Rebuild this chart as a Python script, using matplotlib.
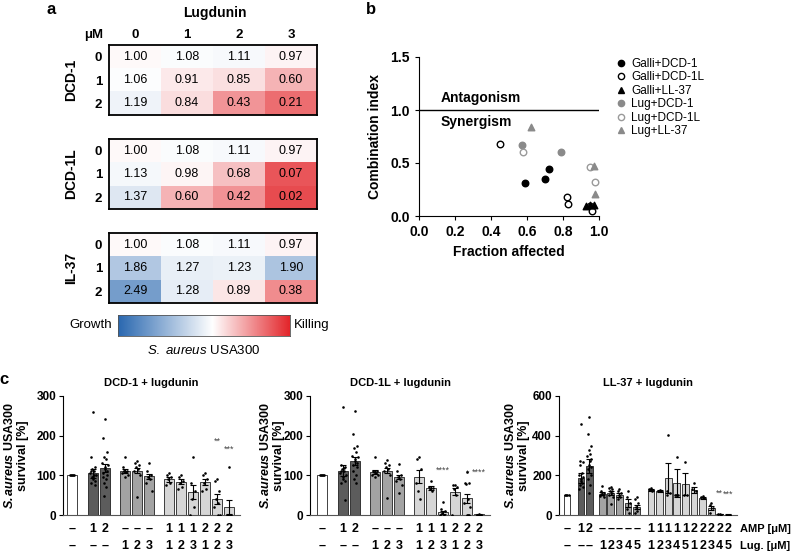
import numpy as np
import matplotlib
matplotlib.use('Agg')
import matplotlib.pyplot as plt
from matplotlib.colors import LinearSegmentedColormap, TwoSlopeNorm
from matplotlib.lines import Line2D

plt.rcParams['font.family'] = 'Liberation Sans'
plt.rcParams['mathtext.fontset'] = 'custom'
plt.rcParams['mathtext.rm'] = 'Liberation Sans'
plt.rcParams['mathtext.it'] = 'Liberation Sans:italic'
plt.rcParams['mathtext.bf'] = 'Liberation Sans:italic:bold'

# ---- panel a data: fractional survival vs. lugdunin (columns) / AMP (rows)
lug_conc = ['0', '1', '2', '3']
amp_conc = ['0', '1', '2']
amp_names = ['DCD-1', 'DCD-1L', 'IL-37']
dcd1 = [[1.00, 1.08, 1.11, 0.97], [1.06, 0.91, 0.85, 0.60], [1.19, 0.84, 0.43, 0.21]]
dcd1l = [[1.00, 1.08, 1.11, 0.97], [1.13, 0.98, 0.68, 0.07], [1.37, 0.60, 0.42, 0.02]]
il37 = [[1.00, 1.08, 1.11, 0.97], [1.86, 1.27, 1.23, 1.90], [2.49, 1.28, 0.89, 0.38]]

# ---- panel b data: fraction affected / combination index
series_b = ['Galli+DCD-1', 'Galli+DCD-1L', 'Galli+LL-37', 'Lug+DCD-1', 'Lug+DCD-1L', 'Lug+LL-37']
fa_galli_dcd1 = [0.59, 0.70, 0.72]
ci_galli_dcd1 = [0.31, 0.35, 0.44]
fa_galli_dcd1l = [0.45, 0.82, 0.83, 0.95, 0.96]
ci_galli_dcd1l = [0.68, 0.18, 0.11, 0.09, 0.05]
fa_galli_ll37 = [0.93, 0.95, 0.97]
ci_galli_ll37 = [0.09, 0.10, 0.10]
fa_lug_dcd1 = [0.57, 0.79]
ci_lug_dcd1 = [0.67, 0.60]
fa_lug_dcd1l = [0.58, 0.95, 0.98]
ci_lug_dcd1l = [0.60, 0.46, 0.32]
fa_lug_ll37 = [0.62, 0.97, 0.98]
ci_lug_ll37 = [0.84, 0.47, 0.21]

# ---- panel c data: survival [%]
amp_row1 = ['–', '1', '2', '–', '–', '–', '1', '1', '1', '2', '2', '2']
lug_row1 = ['–', '–', '–', '1', '2', '3', '1', '2', '3', '1', '2', '3']
amp_row3 = ['–', '1', '2'] + ['–'] * 5 + ['1'] * 5 + ['2'] * 5
lug_row3 = ['–', '–', '–'] + ['1', '2', '3', '4', '5'] * 3

dcd1_mean = [100, 105, 118, 110, 112, 98, 90, 84, 58, 83, 40, 20]
dcd1_sem = [0, 12, 10, 5, 7, 6, 6, 7, 18, 8, 12, 18]
dcd1_dots = [
    [100, 100, 100, 100, 100],
    [260, 145, 120, 115, 110, 105, 100, 95, 90, 85, 80, 75, 110, 100, 95],
    [242, 195, 158, 145, 140, 130, 125, 120, 115, 110, 105, 100, 95, 90, 80, 70, 48],
    [145, 120, 112, 110, 108, 105, 100, 95, 110],
    [135, 130, 125, 120, 115, 110, 100, 45],
    [130, 110, 100, 95, 90, 80, 60],
    [105, 100, 95, 90, 80, 75],
    [100, 95, 85, 80, 70, 65],
    [145, 80, 60, 40, 20, 0],
    [105, 100, 90, 80, 65, 60],
    [90, 85, 60, 40, 30, 20, 0, 0],
    [120, 0, 0, 0, 0],
]
dcd1_stars = {10: ('**', 185), 11: ('***', 165)}

dcd1l_mean = [100, 112, 135, 108, 112, 96, 97, 68, 7, 59, 42, 2]
dcd1l_sem = [0, 13, 10, 5, 7, 6, 17, 4, 4, 8, 12, 1]
dcd1l_dots = [
    [100, 100, 100, 100, 100],
    [272, 125, 120, 115, 110, 105, 100, 95, 90, 85, 80, 38, 112, 118],
    [262, 205, 175, 170, 160, 150, 145, 140, 135, 130, 125, 120, 110, 100, 90, 80],
    [145, 112, 110, 108, 105, 100, 100, 95],
    [138, 130, 125, 120, 115, 110, 100, 42],
    [128, 110, 100, 95, 90, 85, 75, 55],
    [145, 140, 115, 60, 40, 80],
    [85, 70, 68, 65, 60],
    [32, 15, 10, 5, 0, 0],
    [75, 75, 70, 65, 50, 0],
    [108, 80, 80, 78, 40, 30, 20, 0, 0, 0],
    [3, 0, 0, 0, 0],
]
dcd1l_stars = {8: ('****', 113), 10: ('*', 106), 11: ('****', 108)}

ll37_mean = [100, 185, 248, 108, 112, 100, 60, 40, 128, 122, 188, 160, 155, 128, 88, 35, 5, 2]
ll37_sem = [0, 25, 35, 8, 10, 10, 20, 12, 5, 5, 75, 70, 55, 15, 5, 10, 2, 1]
ll37_dots = [
    [100, 100, 100, 100],
    [460, 270, 265, 250, 210, 200, 190, 180, 170, 160, 150, 140, 130],
    [495, 410, 350, 330, 310, 300, 280, 270, 250, 240, 230, 200, 180, 150, 110],
    [145, 120, 110, 105, 100, 95, 90],
    [140, 135, 130, 120, 110, 100, 90, 55],
    [130, 120, 110, 100, 90, 80],
    [120, 90, 60, 30, 10],
    [90, 80, 60, 40, 20, 10],
    [135, 130, 128, 125, 120],
    [125, 122, 120],
    [405, 120, 110, 100],
    [290, 100, 100, 100],
    [265, 100, 100],
    [160, 130, 120],
    [95, 90, 85],
    [60, 50, 35, 10],
    [5, 3, 0],
    [2, 0, 0],
]
ll37_stars = {16: ('**', 112), 17: ('***', 106)}

# ---------------------------------------------------------------- layout
W, H = 793, 554
fig = plt.figure(figsize=(W / 100, H / 100), dpi=100)


def add_ax(l, t, r, b):
    return fig.add_axes([l / W, 1 - b / H, (r - l) / W, (b - t) / H])


def ftext(x, y, s, **kw):
    return fig.text(x / W, 1 - y / H, s, **kw)


# ---------------------------------------------------------------- panel a
cmap = LinearSegmentedColormap.from_list('kill', [(0, '#e3262b'), (0.5, '#ffffff'), (1, '#2a68b0')])
norm = TwoSlopeNorm(vcenter=1.03, vmin=-0.2, vmax=3.3)

ftext(51, 10, 'a', fontsize=12, fontweight='bold', ha='center', va='center')
ftext(215, 13, 'Lugdunin', fontsize=10, fontweight='bold', ha='center', va='center')
ftext(103, 35, 'μM', fontsize=9.5, fontweight='bold', ha='right', va='center')

tops = [45, 139, 233]
for k, (name, mat) in enumerate(zip(amp_names, [dcd1, dcd1l, il37])):
    ax = add_ax(109, tops[k], 317, tops[k] + 70)
    arr = np.array(mat)
    ax.imshow(arr, cmap=cmap, norm=norm, aspect='auto')
    for i in range(arr.shape[0]):
        for j in range(arr.shape[1]):
            ax.text(j, i, f'{arr[i, j]:.2f}', ha='center', va='center', fontsize=9)
    ax.set_yticks(range(3), amp_conc, fontsize=9.5, fontweight='bold')
    ax.tick_params(axis='y', length=0, pad=5)
    if k == 0:
        ax.xaxis.tick_top()
        ax.set_xticks(range(4), lug_conc, fontsize=9.5, fontweight='bold')
        ax.tick_params(axis='x', length=0, pad=3)
    else:
        ax.set_xticks([])
    for sp in ax.spines.values():
        sp.set_linewidth(1.3)
    ax.set_ylabel(name, fontsize=10, fontweight='bold')
    ax.yaxis.set_label_coords(-0.15, 0.5)

cax = add_ax(118, 315, 290, 336)
xg = np.linspace(0, 1, 512)
cax.imshow(np.interp(xg, [0, 0.55, 1], [1, 0.5, 0])[None, :], cmap=cmap, aspect='auto')
cax.set_xticks([])
cax.set_yticks([])
for sp in cax.spines.values():
    sp.set_linewidth(0.6)
    sp.set_color('#555555')
ftext(112, 325, 'Growth', fontsize=9.5, ha='right', va='center')
ftext(294, 325, 'Killing', fontsize=9.5, ha='left', va='center')
ftext(204, 350, r'$\mathit{S.\ aureus}$ USA300', fontsize=9.5, ha='center', va='center')

# ---------------------------------------------------------------- panel b
ftext(371, 9, 'b', fontsize=12, fontweight='bold', ha='center', va='center')
axb = add_ax(419, 57, 599, 216)
styles = [
    (fa_galli_dcd1, ci_galli_dcd1, 'o', 'black', 'black'),
    (fa_galli_dcd1l, ci_galli_dcd1l, 'o', 'white', 'black'),
    (fa_galli_ll37, ci_galli_ll37, '^', 'black', 'black'),
    (fa_lug_dcd1, ci_lug_dcd1, 'o', '#8a8a8a', '#8a8a8a'),
    (fa_lug_dcd1l, ci_lug_dcd1l, 'o', 'white', '#9a9a9a'),
    (fa_lug_ll37, ci_lug_ll37, '^', '#8a8a8a', '#8a8a8a'),
]
handles = []
for (fx, cy, mk, fc, ec), lab in zip(styles, series_b):
    axb.scatter(fx, cy, marker=mk, s=22, facecolor=fc, edgecolor=ec, linewidth=1.0, zorder=3)
    handles.append(Line2D([], [], ls='none', marker=mk, markersize=4.5, markerfacecolor=fc,
                          markeredgecolor=ec, markeredgewidth=1.0, label=lab))
axb.axhline(1.0, color='black', lw=1.0)
axb.text(0.12, 1.05, 'Antagonism', fontsize=10, fontweight='bold', va='bottom')
axb.text(0.12, 0.95, 'Synergism', fontsize=10, fontweight='bold', va='top')
axb.set_xlim(0, 1)
axb.set_ylim(0, 1.5)
axb.set_xticks(np.arange(0, 1.01, 0.2))
axb.set_yticks([0, 0.5, 1.0, 1.5])
axb.xaxis.set_major_formatter('{x:.1f}')
axb.yaxis.set_major_formatter('{x:.1f}')
for lab in axb.get_xticklabels() + axb.get_yticklabels():
    lab.set_fontweight('bold')
axb.tick_params(labelsize=10, length=3, width=0.8)
axb.spines[['top', 'right']].set_visible(False)
axb.set_xlabel('Fraction affected', fontsize=10, fontweight='bold', labelpad=4)
axb.set_ylabel('Combination index', fontsize=10, fontweight='bold', labelpad=6)
fig.legend(handles=handles, loc='upper left', bbox_to_anchor=(616 / W, 1 - 58 / H),
           frameon=False, fontsize=8.5, handlelength=0.8, handletextpad=0.5,
           labelspacing=0.12, borderaxespad=0, borderpad=0)

# ---------------------------------------------------------------- panel c
ftext(4, 379, 'c', fontsize=12, fontweight='bold', ha='center', va='center')
jit = [0.0, -0.22, 0.22, -0.11, 0.11, -0.28, 0.28, 0.05, -0.05, 0.17, -0.17, 0.25, -0.25, 0.08, -0.08, 0.14, -0.14]


def bar_panel(box, xlim, pos, means, sems, dots, colors, ymax, yt, title, rows, stars, width, lab_x):
    ax = add_ax(*box)
    ax.bar(pos, means, width=width, color=colors, edgecolor='#222222', linewidth=0.6, zorder=2)
    ax.errorbar(pos[1:], means[1:], yerr=sems[1:], fmt='none', ecolor='black',
                elinewidth=0.8, capsize=2, capthick=0.8, zorder=3)
    for p, d in zip(pos, dots):
        xs = [p + jit[i % len(jit)] * width for i in range(len(d))]
        ax.scatter(xs, d, s=3.5, color='black', zorder=4, linewidths=0)
    for idx, (s, y) in stars.items():
        ax.text(pos[idx], y, s, ha='center', va='center', fontsize=6.5, color='#444444')
    ax.set_xlim(*xlim)
    ax.set_ylim(0, ymax)
    ax.set_yticks(yt)
    ax.set_xticks([])
    ax.tick_params(axis='y', labelsize=8.5, length=3, width=0.8, pad=2)
    for lab in ax.get_yticklabels():
        lab.set_fontweight('bold')
    ax.spines[['top', 'right']].set_visible(False)
    ax.spines['left'].set_linewidth(0.8)
    ax.spines['bottom'].set_linewidth(0.8)
    ax.spines['bottom'].set_color('#555555')
    ax.set_title(title, fontsize=8, fontweight='bold', pad=7)
    ax.set_ylabel('$\\mathbf{S.aureus}$ USA300\nsurvival [%]', fontsize=9, fontweight='bold',
                  linespacing=1.1)
    ax.yaxis.set_label_coords(lab_x, 0.5)
    hpx = box[3] - box[1]
    for r, (row, ypx) in enumerate(zip(rows, [529, 546])):
        yf = -(ypx - box[3]) / hpx
        for p, s in zip(pos, row):
            ax.text(p, yf, s, transform=ax.get_xaxis_transform(), ha='center', va='center',
                    fontsize=9, fontweight='bold', clip_on=False)
    return ax


pos12 = [0, 1.75, 2.75, 4.4, 5.4, 6.4, 8.1, 9.1, 10.1, 11.1, 12.1, 13.1]
pos18 = [0, 1.63, 2.6, 4.1, 5.1, 6.1, 7.1, 8.1, 9.77, 10.77, 11.77, 12.77, 13.77,
         14.77, 15.77, 16.77, 17.77, 18.77]
col12 = ['white', '#5c5c5c', '#5c5c5c'] + ['#a3a3a3'] * 3 + ['#d6d6d6'] * 6
col18 = ['white', '#5c5c5c', '#5c5c5c'] + ['#a3a3a3'] * 5 + ['#d6d6d6'] * 10

bar_panel((63, 396, 240, 515), (-0.75, 14.0), pos12, dcd1_mean, dcd1_sem, dcd1_dots, col12,
          300, [0, 100, 200, 300], 'DCD-1 + lugdunin', [amp_row1, lug_row1], dcd1_stars, 0.82, -0.19)
bar_panel((310, 396, 490, 515), (-1.0, 14.0), pos12, dcd1l_mean, dcd1l_sem, dcd1l_dots, col12,
          300, [0, 100, 200, 300], 'DCD-1L + lugdunin', [amp_row1, lug_row1], dcd1l_stars, 0.82, -0.14)
bar_panel((559, 396, 737, 515), (-0.93, 19.77), pos18, ll37_mean, ll37_sem, ll37_dots, col18,
          600, [0, 200, 400, 600], 'LL-37 + lugdunin', [amp_row3, lug_row3], ll37_stars, 0.8, -0.165)
ftext(740, 529, 'AMP [μM]', fontsize=8, fontweight='bold', ha='left', va='center')
ftext(740, 546, 'Lug. [μM]', fontsize=8, fontweight='bold', ha='left', va='center')

fig.savefig('out.png', dpi=100)
